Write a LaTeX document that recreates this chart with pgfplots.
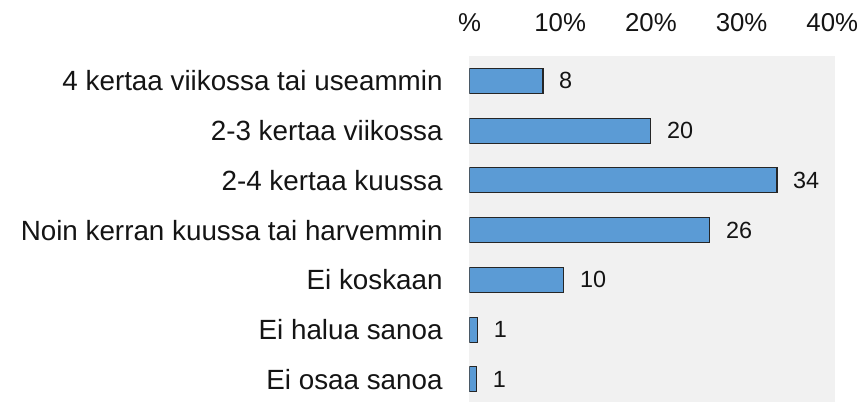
\documentclass[border=0pt]{standalone}
\usepackage{pgfplots}
\pgfplotsset{compat=1.18}
\usepackage{pgfplotstable}
\usepackage{fontspec}
\setmainfont{Liberation Sans}
\definecolor{barblue}{RGB}{91,155,213}
\definecolor{bggray}{RGB}{241,241,241}
\definecolor{txt}{RGB}{20,20,20}
\pgfplotstableread{
y x label
0 8.1 8
1 20 20
2 33.9 34
3 26.5 26
4 10.4 10
5 0.9 1
6 0.8 1
}\datatable
\begin{document}
\begin{tikzpicture}
\begin{axis}[
  name=ax,
  scale only axis,
  width=182.75pt, height=173pt,
  xmin=0, xmax=40.3,
  ymin=-0.5, ymax=6.455,
  y dir=reverse,
  axis background/.style={fill=bggray, draw=none},
  axis line style={draw=none},
  major tick length=0pt,
  xtick={0,10,20,30,40},
  xticklabels={\%,10\%,20\%,30\%,40\%},
  xticklabel pos=upper,
  xticklabel style={anchor=base, yshift=12.4pt, font=\fontsize{12.9}{14}\selectfont, text=txt},
  ytick={0,1,2,3,4,5,6},
  yticklabels={4 kertaa viikossa tai useammin, 2-3 kertaa viikossa, 2-4 kertaa kuussa, Noin kerran kuussa tai harvemmin, Ei koskaan, Ei halua sanoa, Ei osaa sanoa},
  yticklabel style={anchor=east, inner sep=0pt, xshift=-13.25pt, font=\fontsize{13.9}{15}\selectfont, text=txt},
  nodes near coords,
  point meta=explicit symbolic,
  every node near coord/.append style={anchor=west, inner sep=0pt, xshift=7.8pt, font=\fontsize{11.7}{13}\selectfont, text=txt},
]
\addplot[xbar, bar width=12.5pt, fill=barblue, draw=black!85, line width=0.6pt]
  table[x=x, y=y, meta=label] {\datatable};
\end{axis}
\pgfresetboundingbox
\path[use as bounding box] ([xshift=-234.75pt]ax.south west) rectangle ([xshift=16.5pt,yshift=28pt]ax.north east);
\end{tikzpicture}
\end{document}
